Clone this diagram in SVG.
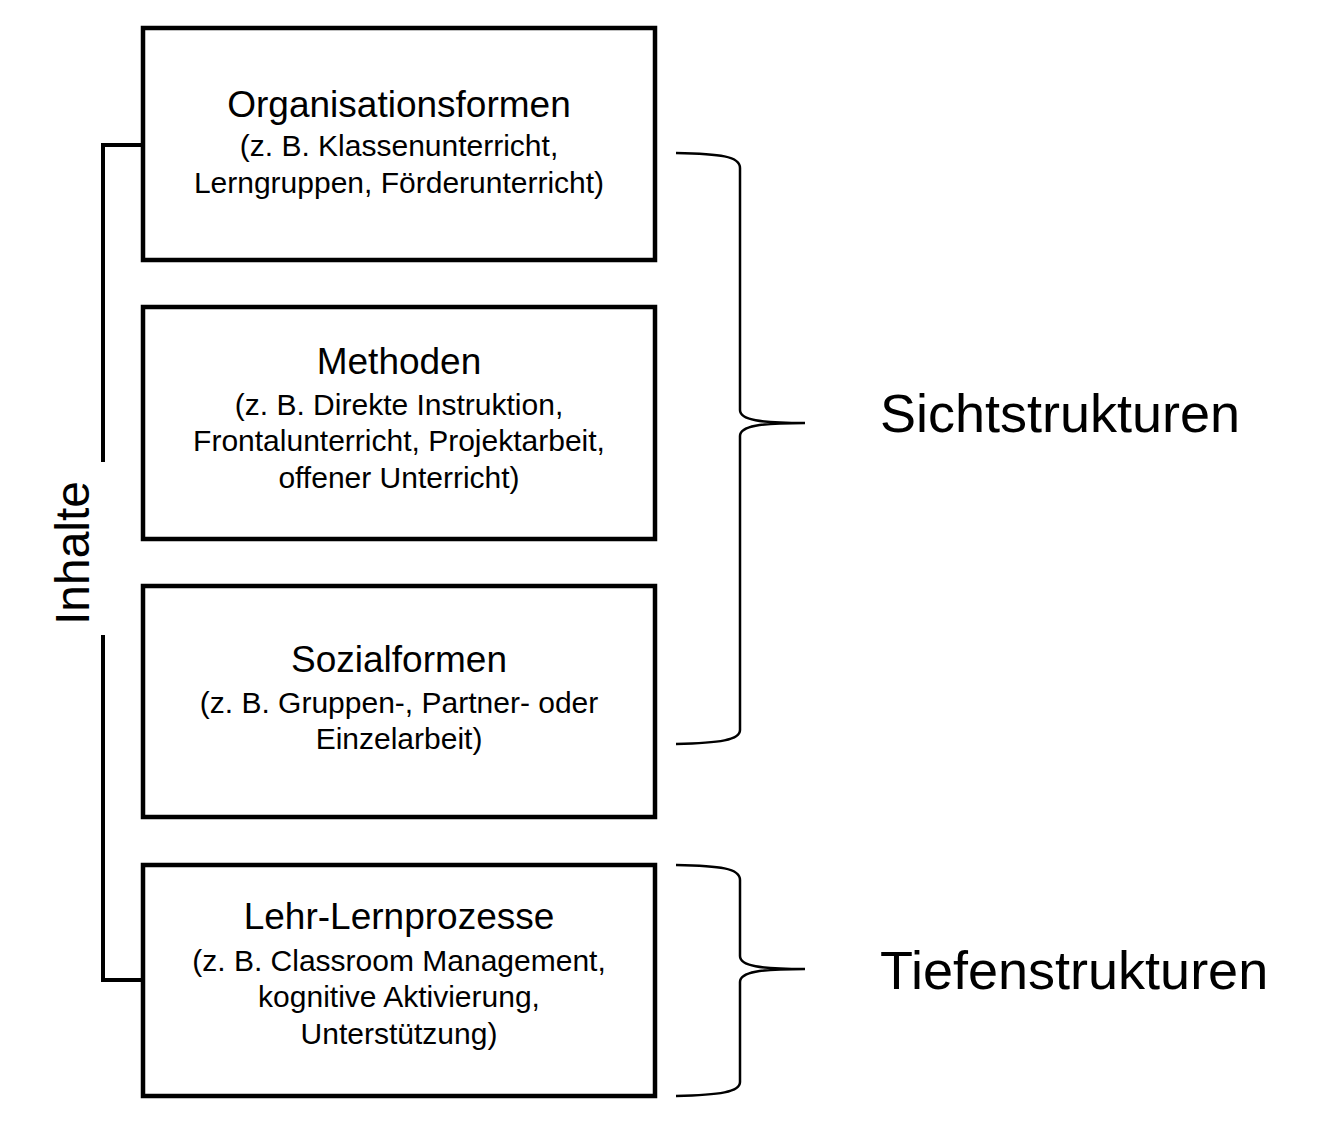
<svg xmlns="http://www.w3.org/2000/svg" width="1340" height="1128" viewBox="0 0 1340 1128">
<style>
.box{fill:#fff;stroke:#000;stroke-width:4.5}
.ln{fill:none;stroke:#000;stroke-width:4}
.br{fill:none;stroke:#000;stroke-width:2.5}
text{font-family:"Liberation Sans",Arial,sans-serif;fill:#000;text-anchor:middle}
.t{font-size:37px}
.s{font-size:30px}
.big{font-size:54px;text-anchor:start}
</style>
<rect width="1340" height="1128" fill="#fff"/>
<g id="connectors">
<path class="ln" d="M143,145 H103 V462"/>
<path class="ln" d="M103,635 V980 H143"/>
<path class="br" d="M676,153 C720,154 740,156 740,168 V410 C740,420 760,423 805,423 C760,423 740,426 740,436 V730 C740,740 720,743 676,744"/>
<path class="br" d="M676,865 C720,866 740,868 740,880 V956 C740,966 760,969 805,969 C760,969 740,972 740,982 V1082 C740,1092 720,1095 676,1096"/>
</g>
<g id="inhalte"><text x="76" y="553" transform="rotate(-90 76 553)" style="font-size:48px" dominant-baseline="middle">Inhalte</text></g>
<g id="organisationsformen">
<rect class="box" x="143" y="28" width="512" height="232"/>
<text class="t" x="399" y="117">Organisationsformen</text>
<text class="s" x="399" y="156">(z. B. Klassenunterricht,</text>
<text class="s" x="399" y="193">Lerngruppen, Förderunterricht)</text>
</g>
<g id="methoden">
<rect class="box" x="143" y="307" width="512" height="232"/>
<text class="t" x="399" y="374">Methoden</text>
<text class="s" x="399" y="415">(z. B. Direkte Instruktion,</text>
<text class="s" x="399" y="451">Frontalunterricht, Projektarbeit,</text>
<text class="s" x="399" y="488">offener Unterricht)</text>
</g>
<g id="sozialformen">
<rect class="box" x="143" y="586" width="512" height="231"/>
<text class="t" x="399" y="672">Sozialformen</text>
<text class="s" x="399" y="713">(z. B. Gruppen-, Partner- oder</text>
<text class="s" x="399" y="749">Einzelarbeit)</text>
</g>
<g id="lehr-lernprozesse">
<rect class="box" x="143" y="865" width="512" height="231"/>
<text class="t" x="399" y="929">Lehr-Lernprozesse</text>
<text class="s" x="399" y="971">(z. B. Classroom Management,</text>
<text class="s" x="399" y="1007">kognitive Aktivierung,</text>
<text class="s" x="399" y="1044">Unterstützung)</text>
</g>
<g id="sichtstrukturen"><text class="big" x="880" y="432">Sichtstrukturen</text></g>
<g id="tiefenstrukturen"><text class="big" x="880" y="989">Tiefenstrukturen</text></g>
</svg>
